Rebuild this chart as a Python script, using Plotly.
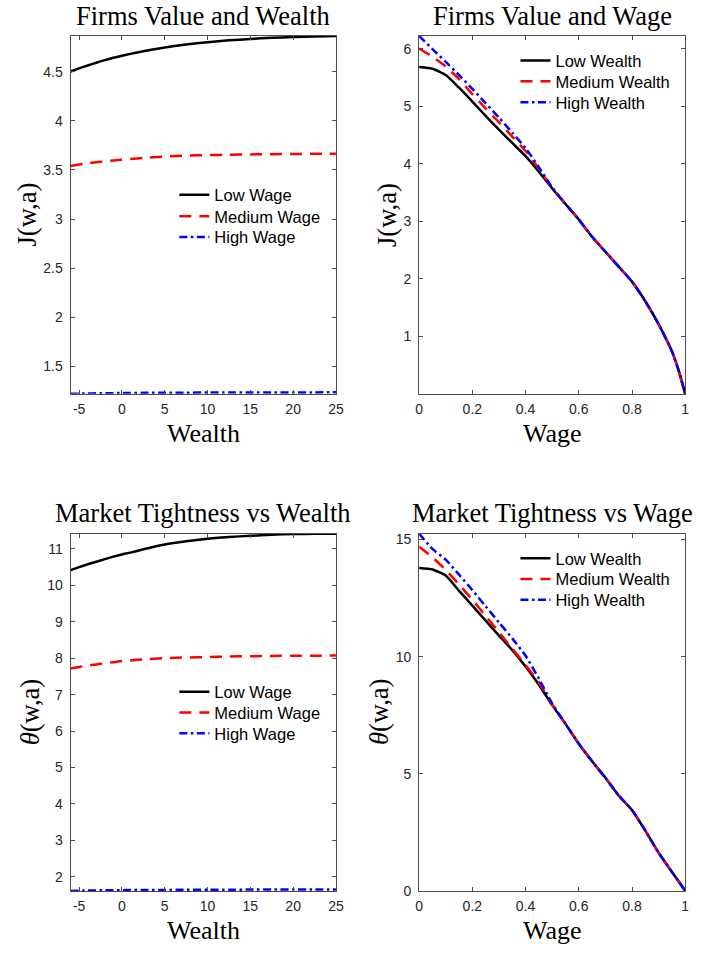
import plotly.graph_objects as go

# ---- data -------------------------------------------------------------
wealth = [-6, -5, -4, -3, -2, -1, 0, 1, 2.5, 5, 7.5, 10, 12.5, 15, 17.5, 20, 22.5, 25]

J_low_wage = [4.504, 4.536, 4.566, 4.594, 4.620, 4.644, 4.665, 4.684, 4.710, 4.749,
              4.779, 4.803, 4.822, 4.836, 4.848, 4.856, 4.862, 4.867]
J_med_wage = [3.541, 3.556, 3.569, 3.579, 3.588, 3.597, 3.605, 3.611, 3.622, 3.637,
              3.646, 3.652, 3.656, 3.659, 3.661, 3.663, 3.665, 3.666]
J_high_wage = [1.217, 1.219, 1.221, 1.222, 1.223, 1.224, 1.225, 1.226, 1.227, 1.228,
               1.229, 1.230, 1.231, 1.231, 1.232, 1.232, 1.232, 1.233]

theta_low_wage = [10.42, 10.50, 10.58, 10.65, 10.72, 10.79, 10.85, 10.90, 10.99, 11.12,
                  11.21, 11.28, 11.33, 11.36, 11.39, 11.41, 11.415, 11.42]
theta_med_wage = [7.72, 7.76, 7.80, 7.83, 7.86, 7.89, 7.92, 7.94, 7.97, 8.00,
                  8.02, 8.03, 8.045, 8.055, 8.062, 8.067, 8.07, 8.072]
theta_high_wage = [1.61, 1.615, 1.62, 1.623, 1.626, 1.628, 1.630, 1.632, 1.634, 1.637,
                   1.639, 1.641, 1.643, 1.645, 1.646, 1.647, 1.648, 1.65]

wage = [0, 0.05, 0.1, 0.15, 0.2, 0.25, 0.3, 0.35, 0.4, 0.45, 0.5,
        0.55, 0.6, 0.65, 0.7, 0.75, 0.8, 0.85, 0.9, 0.95, 0.975, 1.0]

J_low_wealth = [5.68, 5.65, 5.54, 5.32, 5.08, 4.83, 4.59, 4.36, 4.13, 3.86, 3.57,
                3.30, 3.03, 2.73, 2.47, 2.21, 1.95, 1.61, 1.21, 0.74, 0.41, 0.0]
J_med_wealth = [6.00, 5.86, 5.69, 5.47, 5.21, 4.96, 4.72, 4.47, 4.22, 3.91, 3.58,
                3.30, 3.03, 2.73, 2.47, 2.21, 1.95, 1.61, 1.21, 0.74, 0.41, 0.0]
J_high_wealth = [6.22, 5.99, 5.77, 5.54, 5.30, 5.05, 4.80, 4.54, 4.27, 3.94, 3.585,
                 3.30, 3.03, 2.73, 2.47, 2.21, 1.95, 1.61, 1.21, 0.74, 0.41, 0.0]

theta_low_wealth = [13.78, 13.72, 13.46, 12.81, 12.18, 11.54, 10.90, 10.28, 9.58, 8.80, 7.93,
                    7.13, 6.28, 5.53, 4.83, 4.07, 3.45, 2.57, 1.63, 0.81, 0.41, 0.0]
theta_med_wealth = [14.69, 14.24, 13.70, 13.08, 12.43, 11.74, 11.04, 10.34, 9.64, 8.90, 7.96,
                    7.13, 6.28, 5.53, 4.83, 4.07, 3.45, 2.57, 1.63, 0.81, 0.41, 0.0]
theta_high_wealth = [15.25, 14.60, 14.14, 13.50, 12.84, 12.15, 11.46, 10.78, 10.04, 9.06, 8.00,
                     7.14, 6.28, 5.53, 4.83, 4.07, 3.45, 2.57, 1.63, 0.81, 0.41, 0.0]

wage_names = ["Low Wage", "Medium Wage", "High Wage"]
wealth_names = ["Low Wealth", "Medium Wealth", "High Wealth"]

titles = ["Firms Value and Wealth", "Firms Value and Wage",
          "Market Tightness vs Wealth", "Market Tightness vs Wage"]
x_titles = ["Wealth", "Wage", "Wealth", "Wage"]
y_titles = ["J(w,a)", "J(w,a)", "<i>θ</i>(w,a)", "<i>θ</i>(w,a)"]

wealth_ticks = [-5, 0, 5, 10, 15, 20, 25]
wage_ticks = [0, 0.2, 0.4, 0.6, 0.8, 1]
wage_tick_text = ["0", "0.2", "0.4", "0.6", "0.8", "1"]
J_wealth_ticks = [1.5, 2, 2.5, 3, 3.5, 4, 4.5]
J_wage_ticks = [1, 2, 3, 4, 5, 6]
theta_wealth_ticks = [2, 3, 4, 5, 6, 7, 8, 9, 10, 11]
theta_wage_ticks = [0, 5, 10, 15]

# ---- layout geometry (pixels) ----------------------------------------
W, H = 706, 954
panels = [  # left, right, top, bottom
    (67.7, 337.7, 34.3, 396.0),
    (422.3, 693.0, 34.3, 396.0),
    (67.7, 337.7, 537.3, 898.3),
    (422.3, 693.0, 537.3, 898.3),
]
legend_text_x = [213.3, 560.3, 213.3, 560.3]
legend_rows = [[195.0, 216.7, 237.7], [59.3, 80.3, 101.7],
               [697.3, 718.3, 739.3], [562.3, 583.3, 604.3]]
ylabel_x = [23.0, 389.7, 26.5, 381.3]

styles = [
    dict(color="#000000", width=2.5, dash="solid"),
    dict(color="#FF0000", width=2.5, dash="12px,8px"),
    dict(color="#0000FF", width=2.5, dash="8px,3.5px,2.5px,3.5px"),
]

panel_series = [
    (wealth, [J_low_wage, J_med_wage, J_high_wage], wage_names),
    (wage, [J_low_wealth, J_med_wealth, J_high_wealth], wealth_names),
    (wealth, [theta_low_wage, theta_med_wage, theta_high_wage], wage_names),
    (wage, [theta_low_wealth, theta_med_wealth, theta_high_wealth], wealth_names),
]

fig = go.Figure()
layout = dict(
    width=W, height=H,
    margin=dict(l=0, r=0, t=0, b=0),
    paper_bgcolor="white", plot_bgcolor="white",
    showlegend=True,
    annotations=[],
)

serif = "Liberation Serif, Times New Roman, serif"
sans = "Liberation Sans, Arial, sans-serif"
axis_color = "#4d4d4d"
tick_font = dict(family=sans, size=14, color="#262626")

legend_count = 0
for i, (xs, ys_list, names) in enumerate(panel_series):
    l, r, t, b = panels[i]
    xa = "xaxis" if i == 0 else f"xaxis{i + 1}"
    ya = "yaxis" if i == 0 else f"yaxis{i + 1}"
    xref = "x" if i == 0 else f"x{i + 1}"
    yref = "y" if i == 0 else f"y{i + 1}"

    for k, (ys, name) in enumerate(zip(ys_list, names)):
        legend_count += 1
        lg = "legend" if legend_count == 1 else f"legend{legend_count}"
        fig.add_trace(go.Scatter(
            x=xs, y=ys, name=name, mode="lines",
            line=dict(shape="spline", smoothing=0.5, **styles[k]),
            xaxis=xref, yaxis=yref, legend=lg, showlegend=True,
        ))
        layout[lg] = dict(
            x=(legend_text_x[i] - 40) / W, xanchor="left",
            y=1 - legend_rows[i][k] / H, yanchor="middle",
            bgcolor="rgba(0,0,0,0)", borderwidth=0,
            font=dict(family=sans, size=16.5, color="#000000"),
        )

    all_y = [v for ys in ys_list for v in ys]
    if i in (0, 2):
        xrange = [min(xs), max(xs)]
        xticks, xtext = wealth_ticks, [str(v) for v in wealth_ticks]
    else:
        xrange = [0, 1]
        xticks, xtext = wage_ticks, wage_tick_text
    yticks = [J_wealth_ticks, J_wage_ticks, theta_wealth_ticks, theta_wage_ticks][i]
    ytext = [("%g" % v) for v in yticks]

    common = dict(showline=True, linecolor=axis_color, linewidth=1, mirror="ticks",
                  ticks="inside", ticklen=4, tickwidth=1, tickcolor=axis_color,
                  showgrid=False, zeroline=False, tickfont=tick_font)
    layout[xa] = dict(domain=[l / W, r / W], anchor=yref, range=xrange,
                      tickvals=xticks, ticktext=xtext, ticklabelstandoff=2, **common)
    layout[ya] = dict(domain=[1 - b / H, 1 - t / H], anchor=xref,
                      range=[min(all_y), max(all_y)],
                      tickvals=yticks, ticktext=ytext, ticklabelstandoff=4, **common)

    cx = (l + r) / 2
    # subplot title
    layout["annotations"].append(dict(
        text=titles[i], x=cx / W, y=1 - (t - 20.5) / H, xref="paper", yref="paper",
        xanchor="center", yanchor="middle", showarrow=False,
        font=dict(family=serif, size=26.5, color="#000000")))
    # x-axis title
    layout["annotations"].append(dict(
        text=x_titles[i], x=cx / W, y=1 - (b + 40) / H, xref="paper", yref="paper",
        xanchor="center", yanchor="middle", showarrow=False,
        font=dict(family=serif, size=26, color="#000000")))
    # y-axis title
    layout["annotations"].append(dict(
        text=y_titles[i], x=ylabel_x[i] / W, y=1 - ((t + b) / 2) / H,
        xref="paper", yref="paper", xanchor="center", yanchor="middle",
        textangle=-90, showarrow=False,
        font=dict(family=serif, size=26.5, color="#000000")))

fig.update_layout(**layout)
fig.write_html("out.html")
